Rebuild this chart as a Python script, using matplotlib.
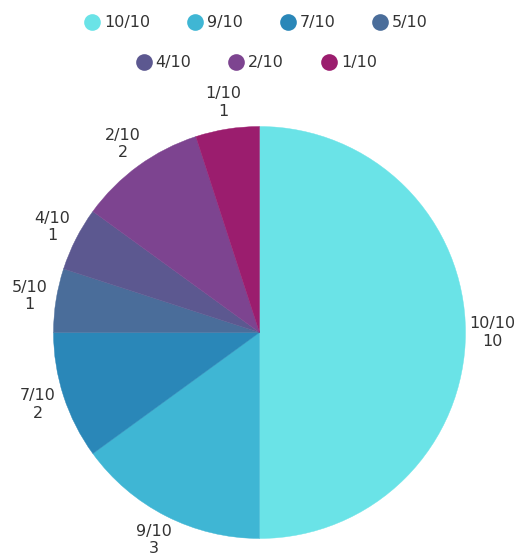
import matplotlib
matplotlib.use("Agg")
import matplotlib.pyplot as plt
from matplotlib.lines import Line2D

categories = ["10/10", "9/10", "7/10", "5/10", "4/10", "2/10", "1/10"]
values = [10, 3, 2, 1, 1, 2, 1]
colors = ["#6ae3e7", "#3fb6d4", "#2a87b8", "#4a6d9a", "#5c5890", "#7d4490", "#9b1d6e"]

plt.rcParams['font.family'] = ['DejaVu Sans']
text_color = "#333333"

W, H = 514, 556
fig = plt.figure(figsize=(W / 100, H / 100), dpi=100)
R = 206
cx, cy = 259.5, 332.5
ax = fig.add_axes([(cx - R) / W, (H - cy - R) / H, 2 * R / W, 2 * R / H])

wedges, texts = ax.pie(values, colors=colors, startangle=90, counterclock=False,
                       radius=1, labels=[f"{c}\n{v}" for c, v in zip(categories, values)],
                       labeldistance=1.13,
                       wedgeprops=dict(linewidth=0),
                       textprops=dict(fontsize=11.5, color=text_color, linespacing=1.2))
for w in wedges:
    w.set_edgecolor(w.get_facecolor())
    w.set_linewidth(0.3)
for t in texts:
    t.set_ha('center')
    t.set_va('center')
    t.set_clip_on(False)
ax.set_xlim(-1, 1)
ax.set_ylim(-1, 1)

def handles(idx):
    return [Line2D([0], [0], marker='o', linestyle='none', markersize=12,
                   markerfacecolor=colors[i], markeredgewidth=0) for i in idx]

row1 = [0, 1, 2, 3]
row2 = [4, 5, 6]
common = dict(loc='center', frameon=False, handletextpad=0.35, columnspacing=2.4,
              handlelength=0.8, prop=dict(size=11.5), labelcolor=text_color)
fig.legend(handles(row1), [categories[i] for i in row1], ncol=4,
           bbox_to_anchor=(0.5, 1 - 23 / H), **common)
fig.legend(handles(row2), [categories[i] for i in row2], ncol=3,
           bbox_to_anchor=(0.5, 1 - 63 / H), **common)

fig.savefig("out.png", dpi=100)
